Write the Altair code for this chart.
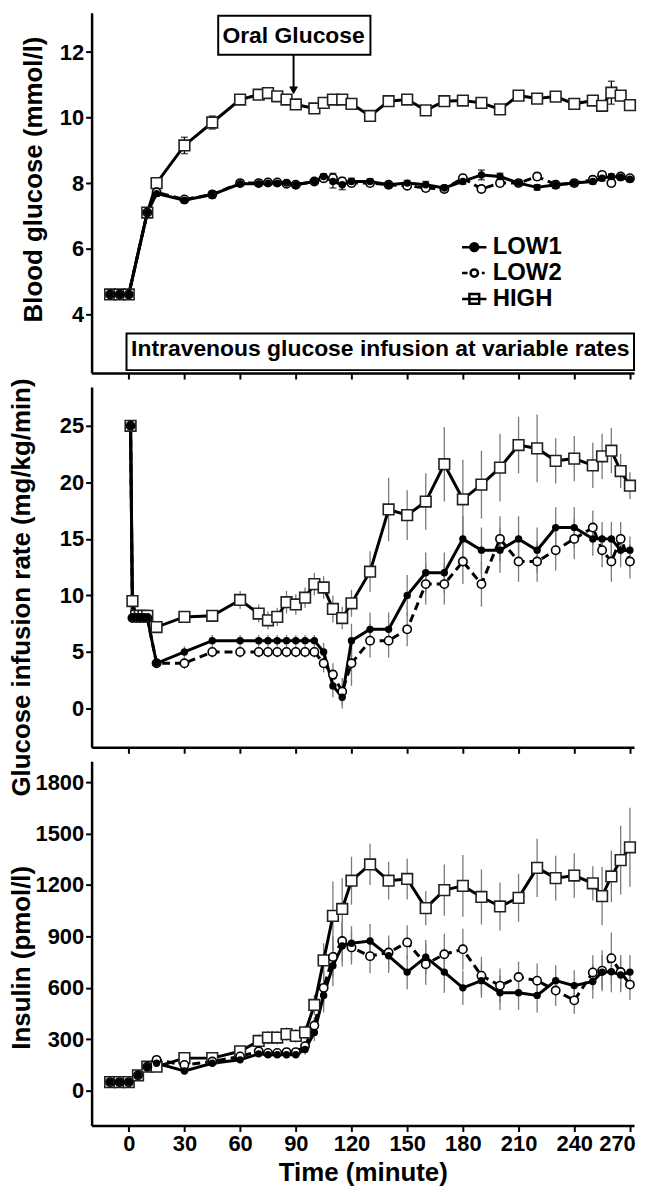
import altair as alt
import pandas as pd

FONT = "Liberation Sans, Arial, Helvetica, sans-serif"
SERIES = ["LOW1", "LOW2", "HIGH"]
time_ticks = [0, 30, 60, 90, 120, 150, 180, 210, 240, 270]

# ---------------- Blood glucose (mmol/l) ----------------
t_glucose = [-10, -5, 0, 10, 15, 30, 45, 60, 70, 75, 80, 85, 90, 100, 105, 110, 115, 120,
             130, 140, 150, 160, 170, 180, 190, 200, 210, 220, 230, 240, 250, 255, 260, 265, 270]
glucose_low1 = [4.6, 4.6, 4.6, 7.1, 7.68, 7.48, 7.65, 7.98, 7.98, 8.0, 8.0, 8.0, 7.95, 8.05, 8.2, 8.05, 7.95, 8.05,
                8.05, 7.95, 8.0, 7.95, 7.85, 8.05, 8.25, 8.2, 8.0, 7.87, 7.95, 8.0, 8.05, 8.15, 8.2, 8.18, 8.12]
glucose_low2 = [4.6, 4.6, 4.6, 7.1, 7.72, 7.5, 7.65, 8.0, 8.0, 8.02, 8.02, 7.98, 7.95, 8.05, 8.15, 8.15, 8.05, 8.0,
                8.0, 7.95, 7.92, 7.85, 7.82, 8.15, 7.82, 8.0, 8.0, 8.2, 7.95, 8.0, 8.1, 8.25, 8.0, 8.2, 8.15]
glucose_high = [4.6, 4.6, 4.6, 7.1, 8.0, 9.15, 9.85, 10.55, 10.7, 10.75, 10.65, 10.55, 10.4, 10.28, 10.45, 10.55, 10.55, 10.42,
                10.05, 10.5, 10.55, 10.22, 10.5, 10.52, 10.45, 10.25, 10.67, 10.58, 10.64, 10.42, 10.52, 10.36, 10.76, 10.67, 10.38]
glucose_low1_err = [0.05, 0.05, 0.05, 0.1, 0.08, 0.08, 0.1, 0.06, 0.05, 0.05, 0.05, 0.05, 0.06, 0.08, 0.08, 0.2, 0.15, 0.1,
                    0.08, 0.1, 0.08, 0.1, 0.08, 0.08, 0.15, 0.1, 0.08, 0.08, 0.1, 0.08, 0.08, 0.08, 0.08, 0.08, 0.08]
glucose_low2_err = [0.05, 0.05, 0.05, 0.1, 0.08, 0.08, 0.1, 0.06, 0.05, 0.05, 0.05, 0.06, 0.06, 0.08, 0.1, 0.15, 0.12, 0.1,
                    0.08, 0.08, 0.08, 0.1, 0.1, 0.1, 0.1, 0.1, 0.08, 0.1, 0.1, 0.08, 0.1, 0.1, 0.1, 0.08, 0.08]
glucose_high_err = [0.05, 0.05, 0.05, 0.1, 0.15, 0.25, 0.2, 0.12, 0.1, 0.1, 0.1, 0.1, 0.1, 0.1, 0.1, 0.12, 0.12, 0.12,
                    0.12, 0.08, 0.1, 0.12, 0.08, 0.08, 0.1, 0.1, 0.1, 0.12, 0.08, 0.1, 0.1, 0.15, 0.35, 0.15, 0.1]

# ---------------- Glucose infusion rate (mg/kg/min) ----------------
t_infusion = [1, 2, 4, 6, 8, 10, 15, 30, 45, 60, 70, 75, 80, 85, 90, 95, 100, 105, 110, 115, 120,
              130, 140, 150, 160, 170, 180, 190, 200, 210, 220, 230, 240, 250, 255, 260, 265, 270]
infusion_low1 = [25, 8, 8, 8, 8, 8, 4, 5, 6, 6, 6, 6, 6, 6, 6, 6, 6, 5, 2, 1, 6,
                 7, 7, 10, 12, 12, 15, 14, 14, 15, 14, 16, 16, 15, 15, 15, 14, 14]
infusion_low2 = [25, 8, 8, 8, 8, 8, 4, 4, 5, 5, 5, 5, 5, 5, 5, 5, 5, 4, 3, 1.5, 4,
                 6, 6, 7, 11, 11, 13, 11, 15, 13, 13, 14, 15, 16, 14, 13, 15, 13]
infusion_high = [25, 9.5, 8.2, 8.2, 8.2, 8.2, 7.2, 8.1, 8.2, 9.6, 8.4, 7.8, 8.1, 9.4, 9.2, 9.8, 11.0, 10.7, 8.8, 8.0, 9.3,
                 12.1, 17.6, 17.1, 18.3, 21.6, 18.5, 19.8, 21.3, 23.3, 23.0, 21.9, 22.1, 21.5, 22.3, 22.8, 21.0, 19.7]
infusion_low1_err = [0, 0.3, 0.3, 0.3, 0.3, 0.3, 0.4, 0.5, 0.5, 0.5, 0.5, 0.5, 0.5, 0.5, 0.5, 0.5, 0.5, 0.8, 1.0, 1.0, 1.5,
                     1.5, 1.5, 1.8, 1.8, 1.8, 2.0, 2.0, 2.0, 2.0, 2.0, 1.8, 1.8, 1.5, 1.5, 1.5, 1.5, 1.2]
infusion_low2_err = [0, 0.3, 0.3, 0.3, 0.3, 0.3, 0.4, 0.5, 0.5, 0.5, 0.5, 0.5, 0.5, 0.5, 0.5, 0.5, 0.5, 0.8, 1.0, 1.2, 2.0,
                     1.5, 1.5, 1.5, 1.8, 1.8, 2.0, 2.0, 2.0, 1.8, 1.8, 1.8, 1.8, 1.5, 1.5, 1.8, 1.5, 1.5]
infusion_high_err = [0, 0.5, 0.3, 0.3, 0.3, 0.3, 0.5, 0.5, 0.5, 0.8, 0.8, 0.8, 0.8, 1.0, 0.9, 0.9, 1.0, 1.0, 1.2, 1.0, 1.2,
                     1.8, 2.8, 2.2, 2.5, 3.3, 3.5, 3.0, 3.0, 2.5, 3.0, 2.0, 2.0, 2.0, 2.0, 2.0, 1.5, 1.2]

# ---------------- Insulin (pmol/l) ----------------
t_insulin = [-10, -5, 0, 5, 10, 15, 30, 45, 60, 70, 75, 80, 85, 90, 95, 100, 105, 110, 115, 120,
             130, 140, 150, 160, 170, 180, 190, 200, 210, 220, 230, 240, 250, 255, 260, 265, 270]
insulin_low1 = [50, 50, 50, 90, 140, 160, 115, 160, 180, 215, 210, 210, 210, 210, 240, 340, 556, 729, 844, 860,
                873, 787, 692, 779, 692, 600, 642, 571, 571, 556, 642, 613, 637, 692, 694, 675, 692]
insulin_low2 = [50, 50, 50, 90, 140, 180, 150, 170, 200, 230, 220, 220, 225, 225, 260, 380, 600, 780, 873, 836,
                785, 806, 865, 738, 796, 825, 671, 613, 663, 642, 584, 527, 690, 700, 773, 692, 619]
insulin_high = [50, 50, 50, 90, 140, 140, 190, 190, 230, 290, 310, 310, 330, 320, 340, 500, 760, 1020, 1060, 1225,
                1320, 1225, 1235, 1065, 1170, 1195, 1130, 1075, 1125, 1300, 1240, 1255, 1210, 1135, 1250, 1345, 1420]
insulin_low1_err = [10, 10, 10, 15, 20, 20, 20, 20, 20, 20, 20, 20, 20, 20, 30, 50, 100, 120, 120, 100,
                    100, 100, 100, 100, 120, 100, 100, 100, 100, 100, 90, 90, 100, 100, 120, 100, 100]
insulin_low2_err = [10, 10, 10, 15, 20, 20, 20, 20, 20, 20, 20, 20, 20, 20, 30, 50, 100, 120, 120, 100,
                    100, 100, 100, 120, 120, 120, 110, 100, 90, 100, 90, 80, 100, 120, 150, 100, 90]
insulin_high_err = [10, 10, 10, 15, 20, 20, 30, 30, 30, 40, 40, 40, 40, 40, 40, 60, 100, 200, 180, 140,
                    120, 110, 120, 100, 150, 180, 160, 140, 140, 170, 130, 130, 100, 170, 150, 200, 230]

# ---------------- annotations ----------------
box_text = ["Oral Glucose", "Intravenous glucose infusion at variable rates"]
box_t0 = [48.2, -1.2]
box_t1 = [130.2, 272.2]
box_v0 = [13.11, 3.41]
box_v1 = [11.92, 2.29]
text_t = [88.8, 135.5]
text_v = [12.5, 2.92]
arrow_t = [88.8]
arrow_v0 = [11.92]
arrow_v1 = [10.83]

legend_paths = [
    "M-1,0L1,0M0.32,0A0.32,0.32,0,1,1,-0.32,0A0.32,0.32,0,1,1,0.32,0Z",
    "M-1,0L-0.55,0M0.62,0L0.85,0M0.3,0A0.3,0.3,0,1,1,-0.3,0A0.3,0.3,0,1,1,0.3,0Z",
    "M-1,0L1,0M-0.4,-0.4L0.4,-0.4L0.4,0.4L-0.4,0.4Z",
]
legend_fills = ["black", "white", "white"]
legend_strokes = ["black", "black", "black"]


def make_frame(t, v, err):
    return pd.DataFrame({
        "t": t, "v": v,
        "lo": [a - e for a, e in zip(v, err)],
        "hi": [a + e for a, e in zip(v, err)],
    })


X_DOMAIN = [-20, 272.2]
PLOT_W = 545


def build_panel(frames, ydomain, yticks, ytitle, title_x, title_y, height, show_x, err_color, caps,
                yfmt=None, extra=None):
    xs = alt.Scale(domain=X_DOMAIN, nice=False, zero=False)
    ys = alt.Scale(domain=ydomain, nice=False, zero=False)
    if show_x:
        xa = alt.Axis(values=time_ticks, title="Time (minute)", labelFlush=False,
                      labelFontSize=22, labelFontWeight="bold", labelPadding=2,
                      labelOffset={"condition": {"test": "datum.value == 270", "value": -13}, "value": 0},
                      titleFontSize=26, titleFontWeight="bold", titlePadding=5)
    else:
        xa = alt.Axis(values=time_ticks, labels=False, title=None)
    ykw = dict(values=yticks, title=ytitle, titleX=title_x, titleY=title_y, titleFontSize=26,
               titleFontWeight="bold", titleBaseline="bottom", labelFontSize=22,
               labelFontWeight="bold", labelPadding=2, labelFlush=False)
    if yfmt:
        ykw["format"] = yfmt
    ya = alt.Axis(**ykw)

    def X(f="t"):
        return alt.X(f"{f}:Q", scale=xs, axis=xa)

    def Y(f="v"):
        return alt.Y(f"{f}:Q", scale=ys, axis=ya)

    layers = []
    low1, low2, high = frames
    for df in (low2, low1, high):
        layers.append(alt.Chart(df).mark_rule(color=err_color, strokeWidth=1.3).encode(
            x=X(), y=Y("lo"), y2="hi:Q"))
        if caps:
            for f in ("lo", "hi"):
                layers.append(alt.Chart(df).mark_tick(orient="horizontal", size=7, thickness=1.4,
                                                      color="black").encode(x=X(), y=Y(f)))
    if extra is not None:
        layers += extra(X, Y)
    layers.append(alt.Chart(low2).mark_line(color="black", strokeWidth=3, strokeDash=[8, 5]).encode(x=X(), y=Y()))
    layers.append(alt.Chart(low1).mark_line(color="black", strokeWidth=3).encode(x=X(), y=Y()))
    layers.append(alt.Chart(high).mark_line(color="black", strokeWidth=3).encode(x=X(), y=Y()))
    layers.append(alt.Chart(high).mark_point(shape="square", filled=True, fill="white", stroke="#222",
                                             strokeWidth=1.6, size=115, opacity=1).encode(x=X(), y=Y()))
    layers.append(alt.Chart(low2).mark_point(shape="circle", filled=True, fill="white", stroke="black",
                                             strokeWidth=1.6, size=70, opacity=1).encode(x=X(), y=Y()))
    layers.append(alt.Chart(low1).mark_point(shape="circle", filled=True, color="black",
                                             size=55, opacity=1).encode(x=X(), y=Y()))
    return alt.layer(*layers).properties(width=PLOT_W, height=height)


def top_extra(X, Y):
    box_df = pd.DataFrame({"x": box_t0, "x2": box_t1, "y": box_v0, "y2": box_v1})
    txt_df = pd.DataFrame({"t": text_t, "v": text_v, "label": box_text})
    arr_df = pd.DataFrame({"t": arrow_t, "v": arrow_v0, "v2": arrow_v1})
    leg_df = pd.DataFrame({"series": SERIES})
    leg = alt.Legend(orient="none", legendX=371, legendY=222, title=None, labelFont=FONT,
                     labelFontSize=24, labelFontWeight="bold", labelColor="black",
                     symbolSize=600, symbolStrokeWidth=2.5, symbolStrokeColor="black",
                     symbolOpacity=1, rowPadding=-5, labelOffset=5, padding=0)
    return [
        alt.Chart(box_df).mark_rect(fill="white", stroke="black", strokeWidth=2).encode(
            x=X("x"), x2="x2:Q", y=Y("y"), y2="y2:Q"),
        alt.Chart(txt_df).mark_text(font=FONT, fontSize=23, fontWeight="bold", color="black",
                                    align="center", baseline="middle").encode(
            x=X("t"), y=Y("v"), text="label:N"),
        alt.Chart(arr_df).mark_rule(color="black", strokeWidth=2).encode(x=X("t"), y=Y("v"), y2="v2:Q"),
        alt.Chart(arr_df).mark_point(shape="triangle-down", filled=True, color="black", size=80,
                                     opacity=1).encode(x=X("t"), y=Y("v2")),
        alt.Chart(leg_df).mark_point(clip=True, filled=False, strokeWidth=2.5, opacity=1).encode(
            x=alt.value(-300), y=alt.value(-300),
            shape=alt.Shape("series:N", scale=alt.Scale(domain=SERIES, range=legend_paths), legend=leg),
            fill=alt.Fill("series:N", scale=alt.Scale(domain=SERIES, range=legend_fills), legend=leg),
            stroke=alt.Stroke("series:N", scale=alt.Scale(domain=SERIES, range=legend_strokes), legend=leg),
        ),
    ]


glu_frames = (make_frame(t_glucose, glucose_low1, glucose_low1_err),
              make_frame(t_glucose, glucose_low2, glucose_low2_err),
              make_frame(t_glucose, glucose_high, glucose_high_err))
inf_frames = (make_frame(t_infusion, infusion_low1, infusion_low1_err),
              make_frame(t_infusion, infusion_low2, infusion_low2_err),
              make_frame(t_infusion, infusion_high, infusion_high_err))
ins_frames = (make_frame(t_insulin, insulin_low1, insulin_low1_err),
              make_frame(t_insulin, insulin_low2, insulin_low2_err),
              make_frame(t_insulin, insulin_high, insulin_high_err))

top = build_panel(glu_frames, [2.2, 13.2], [4, 6, 8, 10, 12], "Blood glucose (mmol/l)", -45, 167, 362,
                  False, "black", True, extra=top_extra)
mid = build_panel(inf_frames, [-3.43, 28.43], [0, 5, 10, 15, 20, 25], "Glucose infusion rate (mg/kg/min)",
                  -57, 201, 362, False, "#7a7a7a", False)
bot = build_panel(ins_frames, [-203, 1922], [0, 300, 600, 900, 1200, 1500, 1800], "Insulin (pmol/l)",
                  -57, 197, 366, True, "#7a7a7a", False, yfmt="d")

chart = alt.vconcat(top, mid, bot, spacing=14, bounds="flush").resolve_scale(
    shape="independent", fill="independent", stroke="independent").resolve_legend(
    shape="independent", fill="independent", stroke="independent").properties(
    padding={"left": 0, "top": 2, "right": 0, "bottom": 0}, background="white"
).configure_view(stroke=None).configure_axis(
    domainColor="black", domainWidth=2.5, tickColor="black", tickWidth=2, tickSize=6, grid=False,
    labelColor="black", titleColor="black", labelFont=FONT, titleFont=FONT)

chart.save("out.html", embed_options={"renderer": "svg", "actions": False})
